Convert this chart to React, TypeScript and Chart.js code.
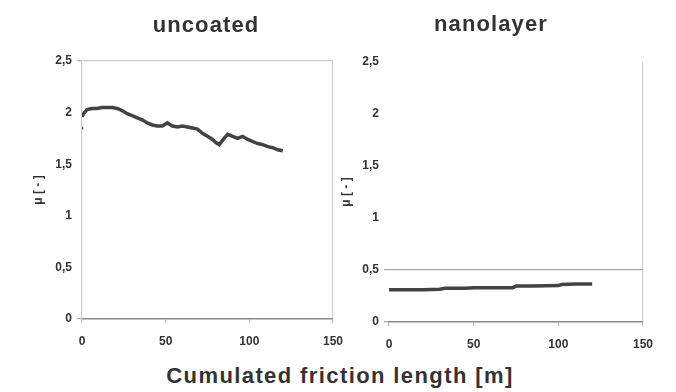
import React, { useEffect, useRef } from 'react';
import { Chart, registerables } from 'chart.js';
Chart.register(...registerables);

const xTicks = [0, 50, 100, 150];
const yTicks = [0, 0.5, 1, 1.5, 2, 2.5];

const uncoatedX = [0, 1, 3, 6, 9, 12, 15, 18, 21, 24, 27, 30, 33, 36, 39, 42, 45, 48, 51, 54, 57, 60, 63, 66, 69, 72, 75, 78, 80, 82, 84, 87, 90, 93, 96, 99, 102, 105, 108, 111, 114, 117, 120];
const uncoatedY = [1.96, 1.99, 2.03, 2.04, 2.04, 2.05, 2.05, 2.05, 2.04, 2.02, 1.99, 1.97, 1.95, 1.93, 1.9, 1.88, 1.87, 1.87, 1.9, 1.87, 1.86, 1.87, 1.86, 1.85, 1.84, 1.8, 1.77, 1.74, 1.71, 1.69, 1.73, 1.79, 1.77, 1.75, 1.77, 1.74, 1.72, 1.7, 1.69, 1.67, 1.66, 1.64, 1.63];
const uncoatedDotX = [0];
const uncoatedDotY = [1.85];

const nanoX = [0, 10, 20, 30, 33, 45, 50, 60, 73, 75, 85, 100, 102, 110, 120];
const nanoY = [0.31, 0.31, 0.31, 0.315, 0.325, 0.325, 0.33, 0.33, 0.33, 0.345, 0.345, 0.35, 0.36, 0.365, 0.365];

const panelTitles = ['uncoated', 'nanolayer'];
const yAxisTitle = 'μ [ - ]';
const xAxisTitle = 'Cumulated friction length [m]';

const FONT = "'Liberation Sans', Arial, sans-serif";
const TEXT = '#333333';
const NONE = 'rgba(0,0,0,0)';

type PanelOpts = {
  xs: number[];
  ys: number[];
  dotX?: number[];
  dotY?: number[];
  pad: { left: number; right: number; top: number; bottom: number };
  yWidth: number;
  xHeight: number;
  yTitlePad: number;
  yGrid: (v: number) => string;
  yTick: (v: number) => string;
  yBorder: boolean;
  xGrid: (v: number) => string;
};

function makeConfig(o: PanelOpts): any {
  const datasets: any[] = [
    {
      data: o.xs.map((x, i) => ({ x, y: o.ys[i] })),
      showLine: true,
      borderColor: '#434343',
      borderWidth: 3.5,
      pointRadius: 0,
      tension: 0,
    },
  ];
  if (o.dotX && o.dotY) {
    datasets.push({
      data: o.dotX.map((x, i) => ({ x, y: o.dotY![i] })),
      showLine: false,
      pointRadius: 1.5,
      backgroundColor: '#555',
      borderWidth: 0,
    });
  }
  return {
    type: 'scatter',
    data: { datasets },
    options: {
      animation: false,
      responsive: false,
      devicePixelRatio: 1,
      layout: { padding: o.pad },
      plugins: { legend: { display: false }, tooltip: { enabled: false }, title: { display: false } },
      scales: {
        x: {
          type: 'linear',
          min: 0,
          max: 150,
          afterBuildTicks: (s: any) => {
            s.ticks = xTicks.map((v) => ({ value: v }));
          },
          afterFit: (s: any) => {
            s.height = o.xHeight;
            s.paddingLeft = 0;
            s.paddingRight = 0;
          },
          ticks: {
            font: { family: FONT, size: 12, weight: 'bold' },
            color: TEXT,
            padding: 11,
            maxRotation: 0,
          },
          grid: {
            color: (c: any) => (c.tick ? o.xGrid(c.tick.value) : NONE),
            tickColor: '#bbbbbb',
            tickLength: 4,
            lineWidth: 1.2,
          },
          border: { display: true, color: '#888888', width: 1.5 },
        },
        y: {
          type: 'linear',
          min: 0,
          max: 2.5,
          afterBuildTicks: (s: any) => {
            s.ticks = yTicks.map((v) => ({ value: v }));
          },
          afterFit: (s: any) => {
            s.width = o.yWidth;
            s.paddingTop = 0;
            s.paddingBottom = 0;
          },
          ticks: {
            font: { family: FONT, size: 12, weight: 'bold' },
            color: TEXT,
            padding: 5,
            callback: (v: number) => String(v).replace('.', ','),
          },
          grid: {
            color: (c: any) => (c.tick ? o.yGrid(c.tick.value) : NONE),
            tickColor: (c: any) => (c.tick ? o.yTick(c.tick.value) : NONE),
            tickLength: 5,
            lineWidth: 1.2,
          },
          border: { display: o.yBorder, color: '#cfcfcf', width: 1.2 },
          title: {
            display: true,
            text: yAxisTitle,
            font: { family: FONT, size: 12, weight: 'bold' },
            color: TEXT,
            padding: { top: o.yTitlePad, bottom: 0 },
          },
        },
      },
    },
  };
}

function Panel({ left, width, height, opts }: { left: number; width: number; height: number; opts: PanelOpts }) {
  const ref = useRef<HTMLCanvasElement | null>(null);
  useEffect(() => {
    if (!ref.current) return;
    const chart = new Chart(ref.current, makeConfig(opts));
    return () => chart.destroy();
  }, []);
  return (
    <canvas
      ref={ref}
      width={width}
      height={height}
      style={{ position: 'absolute', left, top: 0, width, height }}
    />
  );
}

const leftOpts: PanelOpts = {
  xs: uncoatedX,
  ys: uncoatedY,
  dotX: uncoatedDotX,
  dotY: uncoatedDotY,
  pad: { left: 0, right: 13, top: 61, bottom: 0 },
  yWidth: 82,
  xHeight: 41,
  yTitlePad: 31,
  yGrid: (v) => (v === 2.5 ? '#cfcfcf' : NONE),
  yTick: (v) => (v === 0 || v === 2.5 ? '#aaaaaa' : NONE),
  yBorder: true,
  xGrid: (v) => (v === 150 ? '#cfcfcf' : NONE),
};

const rightOpts: PanelOpts = {
  xs: nanoX,
  ys: nanoY,
  pad: { left: 0, right: 33, top: 62, bottom: 0 },
  yWidth: 53,
  xHeight: 38,
  yTitlePad: 3,
  yGrid: (v) => (v === 0.5 ? '#a8a8a8' : NONE),
  yTick: (v) => (v === 0 || v === 0.5 ? '#a8a8a8' : NONE),
  yBorder: false,
  xGrid: (v) => (v === 150 ? '#cfcfcf' : NONE),
};

const titleStyle: React.CSSProperties = {
  position: 'absolute',
  fontFamily: FONT,
  fontWeight: 'bold',
  color: TEXT,
  whiteSpace: 'nowrap',
  transform: 'translate(-50%, -50%)',
  lineHeight: 1,
};

export default function App() {
  return (
    <div style={{ position: 'fixed', left: 0, top: 0, width: 676, height: 392, background: '#fff', overflow: 'hidden' }}>
      <Panel left={0} width={346} height={360} opts={leftOpts} />
      <Panel left={336} width={340} height={360} opts={rightOpts} />
      <div style={{ ...titleStyle, left: 206, top: 25, fontSize: 22, letterSpacing: 1.1 }}>{panelTitles[0]}</div>
      <div style={{ ...titleStyle, left: 491, top: 24, fontSize: 22, letterSpacing: 1.1 }}>{panelTitles[1]}</div>
      <div style={{ ...titleStyle, left: 340, top: 376, fontSize: 22, letterSpacing: 1.4 }}>{xAxisTitle}</div>
    </div>
  );
}
